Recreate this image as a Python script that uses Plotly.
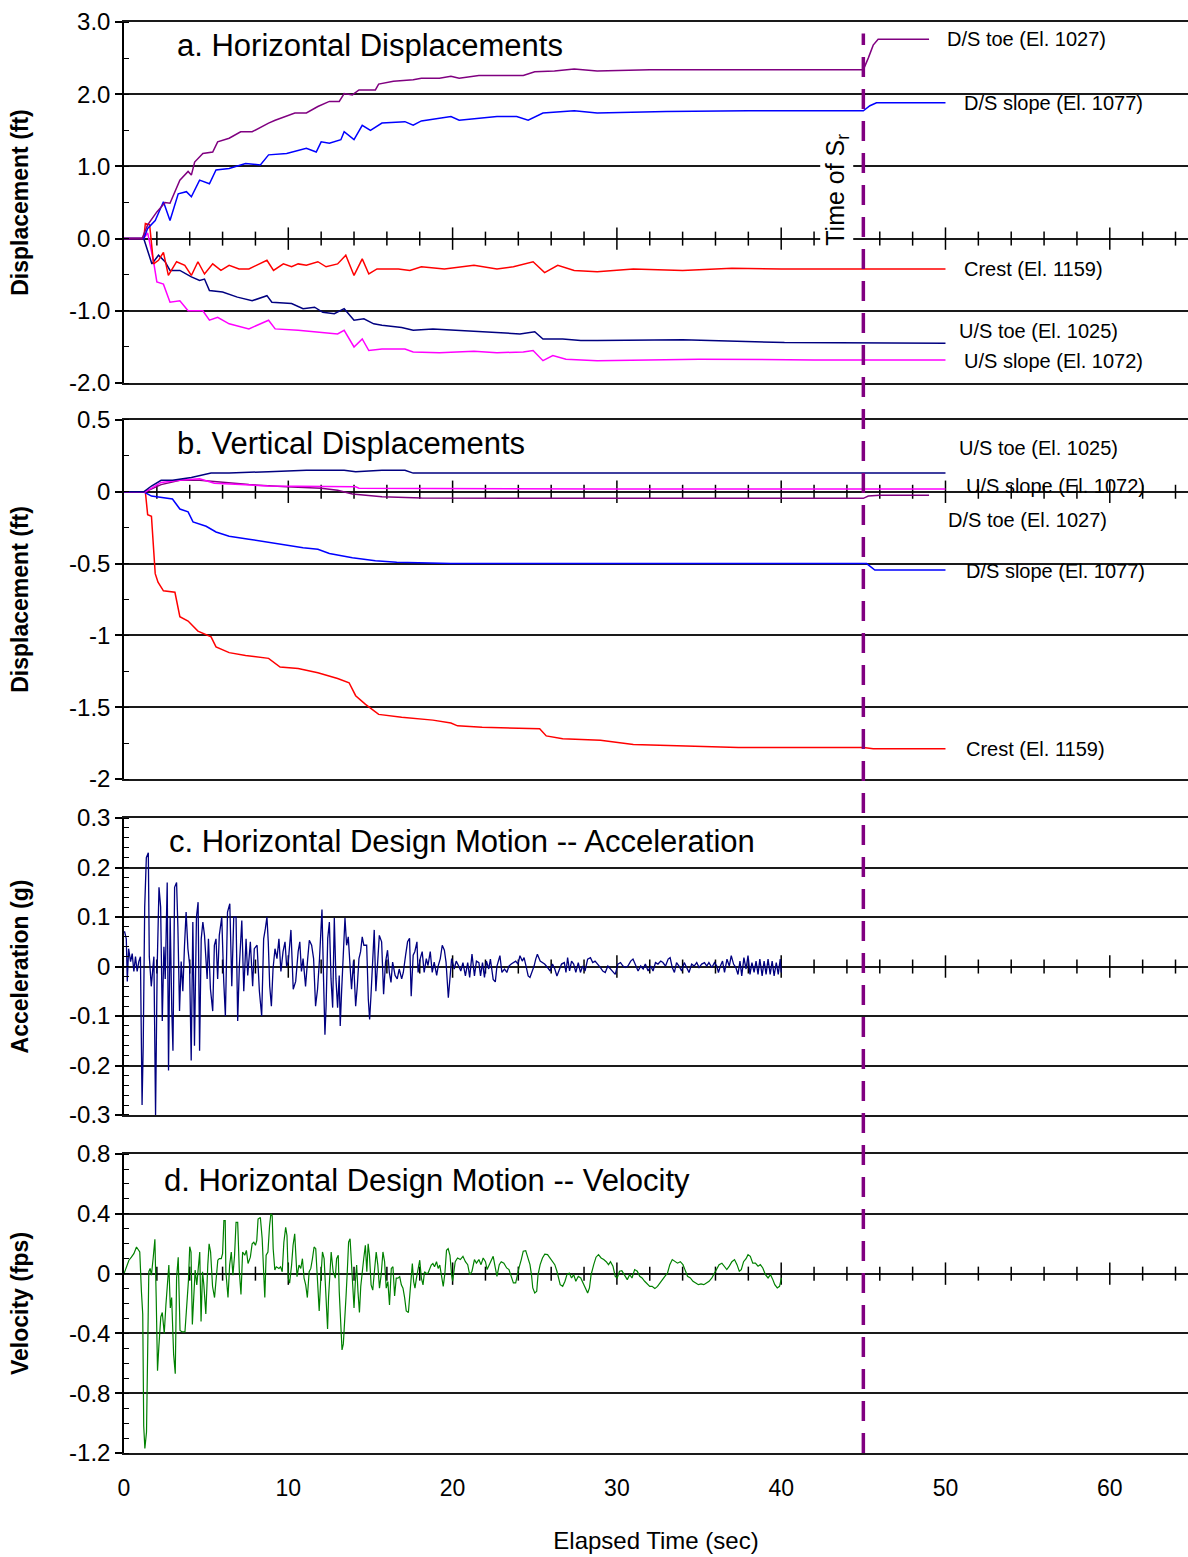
import plotly.graph_objects as go
from plotly.subplots import make_subplots

# ---------------- DATA ----------------
series_names = ["D/S toe (El. 1027)", "D/S slope (El. 1077)", "Crest (El. 1159)",
                "U/S toe (El. 1025)", "U/S slope (El. 1072)"]

# Panel a: horizontal displacements (ft)
ha_ds_toe_t = [0, 1.1, 1.44, 2.0, 2.5, 2.8, 3.4, 3.9, 4.1, 4.3, 4.8, 5.4, 5.7, 6.4, 7.1, 7.8, 8.8, 9.2,
               10.4, 11.1, 11.8, 12.5, 13.1, 13.4, 13.9, 14.3, 15.3, 15.5, 16.4, 17.6, 18.1, 19.2, 19.9,
               20.4, 21.6, 22.7, 24.3, 25.0, 26.2, 27.4, 28.8, 32, 36, 40, 45.0, 45.3, 45.6, 45.9, 49.0]
ha_ds_toe = [0, 0, 0.19, 0.37, 0.5, 0.49, 0.81, 0.93, 0.88, 1.06, 1.18, 1.2, 1.34, 1.39, 1.48, 1.48, 1.6,
             1.64, 1.74, 1.74, 1.83, 1.9, 1.9, 2.01, 1.99, 2.06, 2.06, 2.14, 2.18, 2.2, 2.22, 2.22, 2.25,
             2.22, 2.26, 2.26, 2.26, 2.31, 2.32, 2.35, 2.32, 2.34, 2.34, 2.34, 2.34, 2.5, 2.68, 2.76, 2.76]

ha_ds_slope_t = [0, 1.2, 1.44, 1.9, 2.4, 2.8, 3.3, 3.8, 4.1, 4.6, 5.2, 5.6, 6.4, 7.4, 8.3, 8.8, 9.9, 11.1,
                 11.7, 12.0, 12.5, 13.2, 13.4, 14.0, 14.5, 15.0, 15.7, 17.1, 17.6, 18.1, 19.9, 20.4, 22.7,
                 23.9, 24.6, 25.5, 27.4, 28.8, 33, 38, 45.0, 45.4, 45.8, 50.0]
ha_ds_slope = [0, 0, 0.14, 0.25, 0.51, 0.25, 0.62, 0.65, 0.58, 0.81, 0.76, 0.95, 0.97, 1.04, 1.02, 1.16,
               1.18, 1.25, 1.2, 1.34, 1.32, 1.37, 1.48, 1.37, 1.57, 1.5, 1.6, 1.62, 1.57, 1.63, 1.69, 1.64,
               1.69, 1.69, 1.64, 1.74, 1.77, 1.74, 1.76, 1.77, 1.77, 1.84, 1.88, 1.88]

ha_crest_t = [0, 1.2, 1.3, 1.56, 1.8, 2.1, 2.4, 2.7, 3.2, 3.7, 4.1, 4.5, 4.9, 5.4, 5.9, 6.4, 7.0, 7.6, 8.7,
              9.1, 9.7, 10.2, 10.6, 11.1, 11.8, 12.3, 13.0, 13.5, 14.0, 14.5, 14.9, 15.4, 16.7, 17.4, 18.1,
              19.5, 21.3, 22.7, 23.7, 24.9, 25.6, 26.4, 27.4, 28.8, 31, 34, 37, 40, 50]
ha_crest = [0, 0, 0.21, 0.19, -0.35, -0.3, -0.19, -0.51, -0.32, -0.37, -0.51, -0.32, -0.49, -0.35, -0.44,
            -0.37, -0.42, -0.42, -0.3, -0.44, -0.35, -0.39, -0.35, -0.37, -0.32, -0.39, -0.35, -0.23, -0.51,
            -0.28, -0.49, -0.42, -0.42, -0.44, -0.39, -0.42, -0.37, -0.42, -0.39, -0.32, -0.47, -0.37,
            -0.44, -0.46, -0.42, -0.44, -0.41, -0.42, -0.42]

ha_us_toe_t = [0, 1.2, 1.7, 2.1, 2.5, 2.8, 3.4, 4.1, 4.6, 4.9, 5.2, 6.0, 6.9, 7.8, 8.7, 9.0, 10.2, 10.9, 11.6,
               12.1, 12.8, 13.4, 14.0, 14.6, 15.2, 15.7, 16.9, 17.6, 18.8, 20.4, 22.7, 24.1, 25.0, 25.5,
               26.7, 27.8, 28.8, 34, 40.2, 45, 50]
ha_us_toe = [0, 0, -0.35, -0.23, -0.32, -0.44, -0.44, -0.53, -0.58, -0.56, -0.72, -0.74, -0.81, -0.86, -0.79,
             -0.88, -0.9, -0.97, -0.95, -1.02, -1.04, -0.97, -1.13, -1.11, -1.18, -1.2, -1.23, -1.27, -1.25,
             -1.27, -1.3, -1.32, -1.29, -1.39, -1.39, -1.41, -1.41, -1.40, -1.44, -1.44, -1.45]

ha_us_slope_t = [0, 1.2, 1.44, 1.8, 2.0, 2.4, 2.8, 3.4, 3.9, 4.8, 5.2, 5.7, 6.4, 7.6, 8.8, 9.2, 10.6, 11.8,
                 13.0, 13.4, 14.0, 14.5, 14.9, 15.7, 17.1, 17.6, 19.2, 21.3, 22.7, 24.3, 24.9, 25.5, 26.1,
                 26.9, 28.8, 35, 42, 50]
ha_us_slope = [0, 0, 0.08, -0.32, -0.6, -0.63, -0.88, -0.86, -1.0, -1.0, -1.13, -1.09, -1.18, -1.25, -1.13,
               -1.25, -1.27, -1.3, -1.32, -1.27, -1.5, -1.39, -1.55, -1.53, -1.53, -1.57, -1.58, -1.56,
               -1.58, -1.57, -1.55, -1.69, -1.62, -1.67, -1.69, -1.67, -1.68, -1.68]

# Panel b: vertical displacements (ft)
vb_crest_t = [0, 1.3, 1.44, 1.67, 1.9, 2.07, 2.4, 3.1, 3.4, 3.9, 4.5, 5.3, 5.6, 6.4, 7.4, 8.8, 9.5, 10.6,
              11.8, 13.0, 13.7, 14.1, 14.7, 15.5, 16.9, 18.8, 19.9, 20.3, 21.8, 25.3, 25.7, 26.7, 29.0,
              31.0, 37.4, 45.0, 45.6, 50]
vb_crest = [0, 0, -0.16, -0.17, -0.57, -0.63, -0.69, -0.70, -0.87, -0.9, -0.97, -1.01, -1.08, -1.12, -1.14,
            -1.16, -1.22, -1.23, -1.26, -1.30, -1.33, -1.42, -1.48, -1.55, -1.57, -1.59, -1.61, -1.63,
            -1.64, -1.65, -1.70, -1.72, -1.73, -1.76, -1.78, -1.78, -1.79, -1.79]

vb_ds_slope_t = [0, 1.2, 1.67, 2.26, 2.95, 3.4, 3.9, 4.2, 5.0, 5.6, 6.4, 7.6, 9.2, 10.9, 11.8, 12.5, 13.9,
                 15.3, 16.6, 19.9, 29, 45.2, 45.7, 50]
vb_ds_slope = [0, 0, -0.03, -0.04, -0.05, -0.12, -0.14, -0.21, -0.24, -0.28, -0.31, -0.33, -0.36, -0.39,
               -0.40, -0.43, -0.46, -0.48, -0.49, -0.50, -0.50, -0.50, -0.545, -0.545]

vb_us_toe_t = [0, 1.2, 1.67, 2.26, 2.95, 4.1, 5.3, 6.4, 8.8, 11.1, 13.4, 14.1, 15.7, 17.1, 17.6, 19.9, 29, 50]
vb_us_toe = [0, 0, 0.04, 0.08, 0.08, 0.10, 0.13, 0.13, 0.14, 0.15, 0.15, 0.14, 0.15, 0.15, 0.13, 0.13, 0.13,
             0.13]

vb_us_slope_t = [0, 1.3, 2.26, 3.4, 4.6, 5.5, 8.8, 12.3, 14.1, 14.3, 18.1, 29, 50]
vb_us_slope = [0, 0, 0.065, 0.08, 0.09, 0.06, 0.04, 0.035, 0.035, 0.025, 0.023, 0.02, 0.02]

vb_ds_toe_t = [0, 1.3, 2.26, 3.4, 4.6, 5.5, 7.6, 9.9, 12.0, 13.0, 13.9, 15.7, 18.1, 29, 45.0, 45.3, 46, 49]
vb_ds_toe = [0, 0, 0.05, 0.08, 0.08, 0.07, 0.05, 0.035, 0.025, 0.01, -0.016, -0.035, -0.044, -0.046,
             -0.046, -0.03, -0.025, -0.025]

# Panel c: horizontal design motion - acceleration (g)
acc_t = [0.0, 0.04, 0.14, 0.2, 0.28, 0.4, 0.5, 0.6, 0.7, 0.8, 0.9, 1.0, 1.1, 1.17, 1.26, 1.36, 1.48, 1.54,
         1.66, 1.82, 1.92, 2.02, 2.13, 2.23, 2.33, 2.43, 2.51, 2.63, 2.71, 2.81, 2.91, 2.98, 3.08, 3.2,
         3.28, 3.38, 3.48, 3.58, 3.68, 3.78, 3.89, 3.99, 4.09, 4.19, 4.29, 4.41, 4.51, 4.6, 4.7, 4.8,
         4.9, 5.06, 5.14, 5.26, 5.4, 5.5, 5.6, 5.7, 5.8, 5.95, 6.07, 6.17, 6.3, 6.44, 6.56, 6.68, 6.82,
         6.92, 7.02, 7.17, 7.29, 7.43, 7.53, 7.69, 7.83, 7.93, 8.1, 8.24, 8.38, 8.5, 8.6, 8.7, 8.78,
         8.87, 8.97, 9.07, 9.19, 9.31, 9.43, 9.55, 9.68, 9.8, 9.9,
         10.0, 10.16, 10.3, 10.45, 10.6, 10.7, 10.8, 10.9, 11.05, 11.18, 11.28, 11.42, 11.54, 11.66,
         11.78, 11.9, 11.99, 12.05, 12.15, 12.23, 12.3, 12.4, 12.5, 12.6, 12.7, 12.8, 12.9, 13.0, 13.1,
         13.16, 13.25, 13.37, 13.45, 13.55, 13.65, 13.77, 13.85, 13.97, 14.1, 14.2, 14.3, 14.4, 14.5,
         14.6, 14.77, 14.87, 14.95, 15.03, 15.13, 15.23, 15.33, 15.44, 15.54, 15.68, 15.8, 15.92, 16.04,
         16.15, 16.25, 16.35, 16.5, 16.63, 16.75, 16.9, 17.0, 17.14, 17.26, 17.38, 17.48, 17.6, 17.7,
         17.83, 17.9, 18.03, 18.15, 18.27, 18.4, 18.5, 18.64, 18.76, 18.88, 19.03, 19.13, 19.25, 19.37,
         19.5, 19.6, 19.74, 19.84, 19.94,
         20.1, 20.22, 20.37, 20.5, 20.63, 20.78, 20.92, 21.04, 21.18, 21.33, 21.45, 21.6, 21.7, 21.82,
         21.94, 22.06, 22.2, 22.3, 22.47, 22.6, 22.7, 22.88, 23.0, 23.16, 23.3, 23.43, 23.57, 23.7, 23.84,
         23.98, 24.1, 24.24, 24.35, 24.47, 24.6, 24.71, 24.86, 24.96, 25.06, 25.16, 25.33, 25.47, 25.6,
         25.78, 25.94, 26.08, 26.22, 26.35, 26.5, 26.63, 26.8, 26.9, 27.0, 27.12, 27.24, 27.37, 27.5,
         27.65, 27.78, 27.92, 28.06, 28.22, 28.39, 28.53, 28.67, 28.84, 29.0, 29.14, 29.29, 29.45, 29.6,
         29.76, 29.9, 30.06, 30.22, 30.37, 30.5, 30.67, 30.84, 30.98, 31.12, 31.29, 31.45, 31.6, 31.73,
         31.9, 32.06, 32.2, 32.35, 32.5, 32.67, 32.8, 32.96, 33.12, 33.24, 33.37, 33.5, 33.63, 33.78,
         33.94, 34.1, 34.24, 34.39, 34.55, 34.7, 34.86, 35.0, 35.16, 35.33, 35.47, 35.6, 35.78, 35.94,
         36.08, 36.18, 36.3, 36.43, 36.55, 36.7, 36.84, 36.96, 37.1, 37.24, 37.37, 37.49, 37.6, 37.73,
         37.86, 37.98, 38.1, 38.22, 38.35, 38.47, 38.59, 38.7, 38.84, 38.96, 39.08, 39.2, 39.33, 39.45,
         39.57, 39.7, 39.82, 39.94, 40.0]
acc = [0.07, 0.07, 0.056, -0.03, 0.036, 0.01, 0.026, -0.01, 0.02, -0.01, 0.01, 0.02, -0.28, -0.16, 0.12,
       0.22, 0.23, 0.02, -0.04, 0.02, -0.30, 0.0, 0.16, 0.12, -0.11, 0.04, -0.025, 0.17, -0.21, 0.10,
       -0.09, -0.17, 0.16, 0.17, 0.08, -0.09, 0.01, -0.05, 0.04, 0.11, 0.036, 0.005, -0.19, 0.09, -0.16,
       0.10, 0.13, -0.17, 0.056, 0.09, 0.063, -0.025, 0.056, -0.045, -0.09, 0.043, 0.056, -0.025, 0.063,
       0.10, -0.03, -0.10, 0.11, 0.127, -0.04, 0.10, 0.10, -0.11, 0.0, 0.093, -0.05, 0.056, -0.018, 0.05,
       -0.04, 0.036, 0.043, -0.05, -0.10, 0.056, 0.076, 0.10, 0.05, -0.04, -0.08, -0.005, 0.036, 0.016,
       0.056, -0.01, 0.03, 0.05, 0.0,
       0.01, 0.074, -0.046, -0.03, 0.03, 0.05, -0.01, 0.016, -0.04, 0.016, 0.053, 0.043, 0.016, -0.08,
       -0.046, 0.016, 0.09, 0.115, -0.032, -0.138, -0.08, 0.057, 0.09, -0.025, -0.083, 0.098, -0.025,
       -0.083, -0.018, -0.12, -0.046, 0.057, 0.098, 0.043, 0.06, -0.005, -0.046, 0.012, -0.08, -0.04,
       0.016, 0.03, 0.06, 0.043, 0.043, -0.066, -0.107, -0.06, 0.016, 0.074, -0.05, 0.002, 0.063, 0.05,
       -0.056, 0.009, 0.033, -0.012, -0.032, 0.009, -0.018, -0.025, -0.005, -0.025, -0.012, 0.023, 0.05,
       0.057, -0.06, 0.023, 0.03, 0.05, -0.012, 0.016, 0.03, -0.012, 0.016, 0.002, 0.03, -0.012, 0.009,
       -0.018, 0.002, 0.016, 0.043, 0.033, 0.009, -0.063, -0.018, 0.016,
       -0.005, 0.011, 0.001, -0.009, 0.008, -0.019, 0.008, -0.022, 0.025, -0.019, 0.011, 0.008, -0.019,
       0.008, -0.022, 0.011, -0.005, 0.015, -0.026, -0.031, 0.001, 0.022, -0.012, -0.005, -0.012, 0.001,
       0.005, 0.008, 0.011, 0.005, 0.022, 0.011, 0.018, 0.001, -0.019, -0.022, -0.009, 0.001, 0.015,
       0.025, 0.011, 0.008, 0.005, -0.002, -0.009, 0.005, -0.005, -0.019, -0.005, 0.005, 0.008, -0.012,
       0.018, -0.009, 0.011, 0.005, -0.012, 0.008, -0.012, 0.001, -0.009, 0.015, 0.018, 0.008, 0.011,
       0.005, -0.002, -0.009, -0.012, 0.001, -0.005, -0.012, -0.016, 0.005, 0.008, 0.001, -0.002, 0.001,
       0.011, 0.015, 0.005, -0.009, 0.001, -0.005, 0.005, -0.009, 0.001, -0.009, 0.008, 0.005, 0.011,
       0.008, 0.001, 0.015, 0.018, -0.002, -0.012, 0.008, 0.001, -0.009, 0.008, -0.002, -0.012, 0.005,
       0.001, 0.008, -0.002, 0.005, 0.008, 0.001, 0.008, -0.002, 0.008, 0.001, -0.012, 0.001, 0.011,
       -0.012, 0.015, 0.001, 0.022, 0.005, -0.002, -0.016, 0.011, -0.019, 0.018, -0.005, 0.022, -0.016,
       0.008, -0.012, 0.011, -0.016, 0.015, -0.019, 0.011, -0.016, 0.015, -0.016, 0.011, -0.019, 0.008,
       -0.016, 0.015, -0.012]

# Panel d: horizontal design motion - velocity (fps)
vel_t = [0.0, 0.08, 0.2, 0.3, 0.45, 0.6, 0.76, 0.86, 0.96, 1.06, 1.14, 1.2, 1.27, 1.37, 1.43, 1.51, 1.59,
         1.67, 1.78, 1.88, 1.96, 2.04, 2.12, 2.24, 2.33, 2.45, 2.55, 2.65, 2.73, 2.82, 2.9, 3.02, 3.12, 3.2,
         3.3, 3.41, 3.55, 3.71, 3.84, 3.92, 4.0, 4.08, 4.16, 4.24, 4.33, 4.43, 4.53, 4.61, 4.69, 4.78,
         4.86, 4.98, 5.1, 5.18, 5.27, 5.39, 5.51, 5.59, 5.71, 5.8, 5.92, 6.0, 6.08, 6.16, 6.2, 6.33, 6.43,
         6.53, 6.63, 6.73, 6.82, 6.92, 7.02, 7.12, 7.22, 7.35, 7.45, 7.55, 7.69, 7.8, 7.9, 8.0, 8.08,
         8.16, 8.3, 8.41, 8.49, 8.57, 8.65, 8.76, 8.86, 8.94, 9.02, 9.08, 9.18, 9.27, 9.43, 9.53, 9.63,
         9.73, 9.84, 9.92, 10.0, 10.08, 10.2, 10.29, 10.39, 10.45, 10.53, 10.65, 10.76, 10.86, 10.96,
         11.06, 11.16, 11.27, 11.37, 11.47, 11.57, 11.67, 11.78, 11.88, 11.98, 12.08, 12.18, 12.29, 12.39,
         12.45, 12.53, 12.61, 12.73, 12.86, 12.94, 13.04, 13.1, 13.18, 13.27, 13.35, 13.43, 13.51, 13.59,
         13.67, 13.76, 13.84, 13.92, 14.0, 14.08, 14.16, 14.24, 14.33, 14.41, 14.49, 14.59, 14.69, 14.78,
         14.86, 14.94, 15.04, 15.14, 15.24, 15.35, 15.45, 15.55, 15.65, 15.76, 15.86, 15.96, 16.06, 16.16,
         16.27, 16.37, 16.47, 16.57, 16.67, 16.78, 16.88, 16.98, 17.08, 17.18, 17.31, 17.39, 17.49, 17.55,
         17.63, 17.71, 17.8, 17.9, 18.0, 18.1, 18.2, 18.29, 18.4, 18.5, 18.6, 18.7, 18.8, 18.9, 19.02,
         19.12, 19.22, 19.33, 19.43, 19.53, 19.63, 19.73, 19.84, 19.94,
         20.0, 20.16, 20.3, 20.47, 20.63, 20.78, 20.92, 21.04, 21.18, 21.33, 21.45, 21.6, 21.73, 21.86,
         22.0, 22.1, 22.22, 22.35, 22.47, 22.6, 22.7, 22.84, 22.96, 23.12, 23.29, 23.43, 23.57, 23.7,
         23.84, 23.94, 24.04, 24.18, 24.3, 24.45, 24.6, 24.71, 24.8, 24.88, 25.0, 25.12, 25.2, 25.33,
         25.47, 25.61, 25.78, 25.94, 26.08, 26.22, 26.35, 26.43, 26.55, 26.7, 26.84, 26.96, 27.1, 27.24,
         27.37, 27.5, 27.65, 27.8, 27.98, 28.12, 28.22, 28.33, 28.43, 28.59, 28.73, 28.88, 29.04, 29.2,
         29.35, 29.49, 29.61, 29.76, 29.9, 30.02, 30.16, 30.3, 30.47, 30.63, 30.78, 30.92, 31.08, 31.24,
         31.39, 31.53, 31.69, 31.86, 32.0, 32.14, 32.31, 32.47, 32.61, 32.76, 32.92, 33.08, 33.22, 33.37,
         33.53, 33.69, 33.86, 34.02, 34.14, 34.3, 34.47, 34.63, 34.8, 34.96, 35.12, 35.29, 35.45, 35.61,
         35.78, 35.94, 36.08, 36.22, 36.39, 36.55, 36.69, 36.84, 37.0, 37.16, 37.31, 37.45, 37.57, 37.71,
         37.86, 37.98, 38.12, 38.27, 38.43, 38.59, 38.73, 38.88, 39.04, 39.2, 39.35, 39.49, 39.61, 39.76,
         39.9, 40.02]
vel = [0.0, 0.024, 0.057, 0.09, 0.11, 0.134, 0.178, 0.156, 0.145, -0.12, -0.27, -1.02, -1.17, -1.06, -0.47,
       0.013, 0.035, -0.01, 0.11, 0.23, -0.16, -0.65, -0.49, -0.29, -0.26, -0.40, -0.21, -0.075, 0.057,
       -0.23, -0.16, -0.54, -0.67, -0.03, 0.11, -0.38, -0.39, -0.39, -0.16, -0.05, 0.18, 0.145, -0.34,
       -0.16, 0.024, -0.075, 0.046, 0.145, -0.32, 0.013, -0.075, -0.27, 0.057, 0.2, 0.145, -0.086, -0.16,
       -0.064, 0.09, 0.1, 0.1, 0.134, 0.354, 0.354, 0.013, -0.16, 0.057, 0.145, -0.01, 0.123, 0.343,
       0.343, 0.013, -0.14, 0.145, 0.123, 0.156, 0.068, 0.11, 0.2, 0.21, 0.19, 0.22, 0.365, 0.376, 0.233,
       0.002, -0.16, 0.123, 0.145, 0.32, 0.4, 0.387, 0.167, 0.024, 0.046, 0.035, 0.046, 0.013, 0.21, 0.31,
       0.255, -0.03, -0.064, 0.057, 0.19, 0.266, 0.167, -0.02, 0.057, 0.035, 0.1, -0.03, -0.075, -0.16,
       0.013, 0.035, 0.1, 0.178, 0.167, -0.075, -0.25, -0.03, 0.145, 0.1, -0.16, -0.37, -0.16, -0.03,
       0.145, 0.013, -0.03, 0.1, 0.123, -0.12, -0.29, -0.51, -0.47, -0.34, -0.16, 0.013, 0.21, 0.233,
       0.057, -0.03, -0.23, -0.053, 0.057, -0.12, -0.26, -0.086, 0.013, 0.1, 0.19, 0.013, 0.2, 0.123,
       -0.075, -0.11, 0.013, 0.145, 0.057, -0.097, -0.01, 0.145, 0.08, -0.097, -0.053, -0.21, 0.035,
       0.046, -0.15, -0.03, -0.03, -0.02, -0.075, -0.097, -0.16, -0.25, -0.26, -0.16, -0.053, 0.068,
       -0.053, -0.097, -0.03, 0.024, 0.09, -0.03, -0.075, 0.013, 0.002, 0.002, 0.035, 0.057, 0.068, 0.046,
       0.08, 0.035, 0.057, -0.03, -0.086, 0.002, 0.156, 0.167, 0.123, -0.01,
       -0.05, 0.08, 0.105, 0.094, 0.116, 0.08, 0.06, -0.007, 0.016, 0.094, 0.07, 0.094, 0.06, 0.105,
       0.08, 0.027, 0.06, 0.094, 0.116, 0.038, -0.018, 0.06, 0.08, 0.07, 0.038, 0.027, -0.018, -0.062,
       -0.062, -0.007, 0.038, 0.094, 0.15, 0.154, 0.105, 0.06, -0.007, -0.096, -0.13, -0.118, -0.007,
       0.06, 0.105, 0.13, 0.127, 0.105, 0.08, 0.06, 0.016, -0.029, -0.074, -0.085, -0.051, -0.007, 0.004,
       -0.029, -0.007, -0.051, -0.018, -0.029, -0.074, -0.107, -0.13, -0.096, -0.007, 0.06, 0.11, 0.127,
       0.105, 0.094, 0.08, 0.06, 0.08, 0.05, -0.018, -0.029, 0.016, 0.02, -0.007, -0.04, -0.007, -0.029,
       0.027, 0.016, -0.018, -0.029, -0.051, -0.074, -0.085, -0.085, -0.1, -0.085, -0.062, -0.04, -0.018,
       0.004, 0.06, 0.094, 0.08, 0.07, 0.08, 0.06, 0.027, -0.018, -0.029, -0.051, -0.062, -0.074, -0.069,
       -0.074, -0.062, -0.051, -0.029, 0.004, 0.038, 0.06, 0.07, 0.05, 0.027, 0.05, 0.08, 0.094, 0.06,
       0.016, 0.027, 0.08, 0.1, 0.127, 0.116, 0.07, 0.07, 0.05, 0.06, 0.038, -0.007, -0.029, -0.007,
       -0.04, -0.074, -0.096, -0.085, -0.029]

# Axis ticks and labels
x_tickvals = [0, 10, 20, 30, 40, 50, 60]
x_ticktext = ["0", "10", "20", "30", "40", "50", "60"]
ya_tickvals = [3, 2, 1, 0, -1, -2]
ya_ticktext = ["3.0", "2.0", "1.0", "0.0", "-1.0", "-2.0"]
yb_tickvals = [0.5, 0, -0.5, -1, -1.5, -2]
yb_ticktext = ["0.5", "0", "-0.5", "-1", "-1.5", "-2"]
yc_tickvals = [0.3, 0.2, 0.1, 0, -0.1, -0.2, -0.3]
yc_ticktext = ["0.3", "0.2", "0.1", "0", "-0.1", "-0.2", "-0.3"]
yd_tickvals = [0.8, 0.4, 0, -0.4, -0.8, -1.2]
yd_ticktext = ["0.8", "0.4", "0", "-0.4", "-0.8", "-1.2"]
cross_minor = [t for t in range(2, 65, 2) if t % 10 != 0]
cross_major = [10, 20, 30, 40, 50, 60]

panel_titles = ["a. Horizontal Displacements", "b. Vertical Displacements",
                "c. Horizontal Design Motion -- Acceleration",
                "d. Horizontal Design Motion -- Velocity"]
y_titles = ["Displacement (ft)", "Displacement (ft)", "Acceleration (g)", "Velocity (fps)"]
x_title = "Elapsed Time (sec)"
sr_time = 45.0

# ---------------- STYLE ----------------
FONT = "Liberation Sans, Arial, sans-serif"
C_DS_TOE, C_DS_SLOPE, C_CREST, C_US_TOE, C_US_SLOPE = "#800080", "#0000FF", "#FF0000", "#000080", "#FF00FF"
GRID = "#1a1a1a"

fig = make_subplots(rows=4, cols=1, shared_xaxes=True)

def line(x, y, color, row, width=1.5):
    fig.add_trace(go.Scatter(x=x, y=y, mode="lines", line=dict(color=color, width=width),
                             hoverinfo="skip"), row=row, col=1)

# cross ticks on zero line
for r in range(1, 5):
    fig.add_trace(go.Scatter(x=cross_minor, y=[0] * len(cross_minor), mode="markers",
                             marker=dict(symbol="line-ns", size=10, line=dict(width=1.5, color="black")),
                             hoverinfo="skip"), row=r, col=1)
    fig.add_trace(go.Scatter(x=cross_major, y=[0] * len(cross_major), mode="markers",
                             marker=dict(symbol="line-ns", size=16, line=dict(width=1.5, color="black")),
                             hoverinfo="skip"), row=r, col=1)

line(ha_us_slope_t, ha_us_slope, C_US_SLOPE, 1)
line(ha_us_toe_t, ha_us_toe, C_US_TOE, 1)
line(ha_crest_t, ha_crest, C_CREST, 1)
line(ha_ds_slope_t, ha_ds_slope, C_DS_SLOPE, 1)
line(ha_ds_toe_t, ha_ds_toe, C_DS_TOE, 1)

line(vb_crest_t, vb_crest, C_CREST, 2)
line(vb_ds_slope_t, vb_ds_slope, C_DS_SLOPE, 2)
line(vb_ds_toe_t, vb_ds_toe, C_DS_TOE, 2)
line(vb_us_slope_t, vb_us_slope, C_US_SLOPE, 2)
line(vb_us_toe_t, vb_us_toe, C_US_TOE, 2)

line(acc_t, acc, "#000080", 3, width=1.3)
line(vel_t, vel, "#008000", 4, width=1.2)

domains = [[0.7477, 1.0], [0.4710, 0.7219], [0.2362, 0.4437], [0.0, 0.2089]]
yranges = [[-2, 3], [-2, 0.5], [-0.3, 0.3], [-1.2, 0.8]]
ytv = [ya_tickvals, yb_tickvals, yc_tickvals, yd_tickvals]
ytt = [ya_ticktext, yb_ticktext, yc_ticktext, yd_ticktext]
minor_dt = [0.5, 0.25, 0.02, 0.1]

for i in range(4):
    sfx = "" if i == 0 else str(i + 1)
    fig.layout["yaxis" + sfx].update(
        domain=domains[i], range=yranges[i], tickvals=ytv[i], ticktext=ytt[i],
        ticks="outside", ticklen=7, tickwidth=1.5, tickcolor="black",
        showline=True, linecolor="black", linewidth=1.5,
        showgrid=True, gridcolor=GRID, gridwidth=1.5, zeroline=False,
        minor=dict(tick0=0, dtick=minor_dt[i], ticks="inside", ticklen=5, tickwidth=1.2,
                   tickcolor="black", showgrid=False),
        tickfont=dict(size=24, family=FONT, color="black"),
        title=dict(text=y_titles[i], font=dict(size=23, family=FONT, color="black", weight="bold"),
                   standoff=34),
        fixedrange=True)
    fig.layout["xaxis" + sfx].update(
        range=[0, 64.76], showline=True, mirror=True, linecolor=GRID, linewidth=1.5,
        showgrid=False, zeroline=False, ticks="", showticklabels=(i == 3), fixedrange=True)

fig.layout["xaxis4"].update(
    tickvals=x_tickvals, ticktext=x_ticktext, ticklabelstandoff=14,
    tickfont=dict(size=23, family=FONT, color="black"),
    title=dict(text=x_title, font=dict(size=24, family=FONT, color="black"), standoff=32))

# panel titles
title_pos = [(3.1, 2.68), (3.1, 0.335), (2.6, 0.252), (2.33, 0.625)]
for i, (tx, ty) in enumerate(title_pos):
    sfx = "" if i == 0 else str(i + 1)
    fig.add_annotation(x=tx, y=ty, xref="x" + sfx, yref="y" + sfx, text=panel_titles[i],
                       showarrow=False, xanchor="left", yanchor="middle",
                       font=dict(size=31, family=FONT, color="black"))

# series labels
lab_a = [(50.0, 2.77), (51.0, 1.88), (51.0, -0.42), (50.7, -1.28), (51.0, -1.69)]
lab_b = [(50.05, -0.20), (51.1, -0.55), (51.1, -1.79), (50.7, 0.306), (51.1, 0.04)]
for name, (lx, ly) in zip(series_names, lab_a):
    fig.add_annotation(x=lx, y=ly, xref="x", yref="y", text=name, showarrow=False,
                       xanchor="left", yanchor="middle", font=dict(size=20, family=FONT, color="black"))
for name, (lx, ly) in zip(series_names, lab_b):
    fig.add_annotation(x=lx, y=ly, xref="x2", yref="y2", text=name, showarrow=False,
                       xanchor="left", yanchor="middle", font=dict(size=20, family=FONT, color="black"))

# time of residual strength line
fig.add_shape(type="line", xref="x", yref="paper", x0=sr_time, x1=sr_time, y0=0, y1=0.992,
              line=dict(color="#800080", width=3.5, dash="20px,12px"))
fig.add_annotation(x=43.35, y=0.68, xref="x", yref="y", text="Time of S<sub>r</sub>",
                   textangle=-90, showarrow=False, xanchor="center", yanchor="middle",
                   bgcolor="white", borderpad=0, font=dict(size=25, family=FONT, color="black"))

fig.update_layout(width=1188, height=1557, template="none", showlegend=False,
                  margin=dict(l=124, r=0, t=22, b=104),
                  plot_bgcolor="white", paper_bgcolor="white",
                  font=dict(family=FONT, color="black"))

fig.write_html("out.html", config={"displayModeBar": False},
               post_script="document.body.style.margin='0';")
